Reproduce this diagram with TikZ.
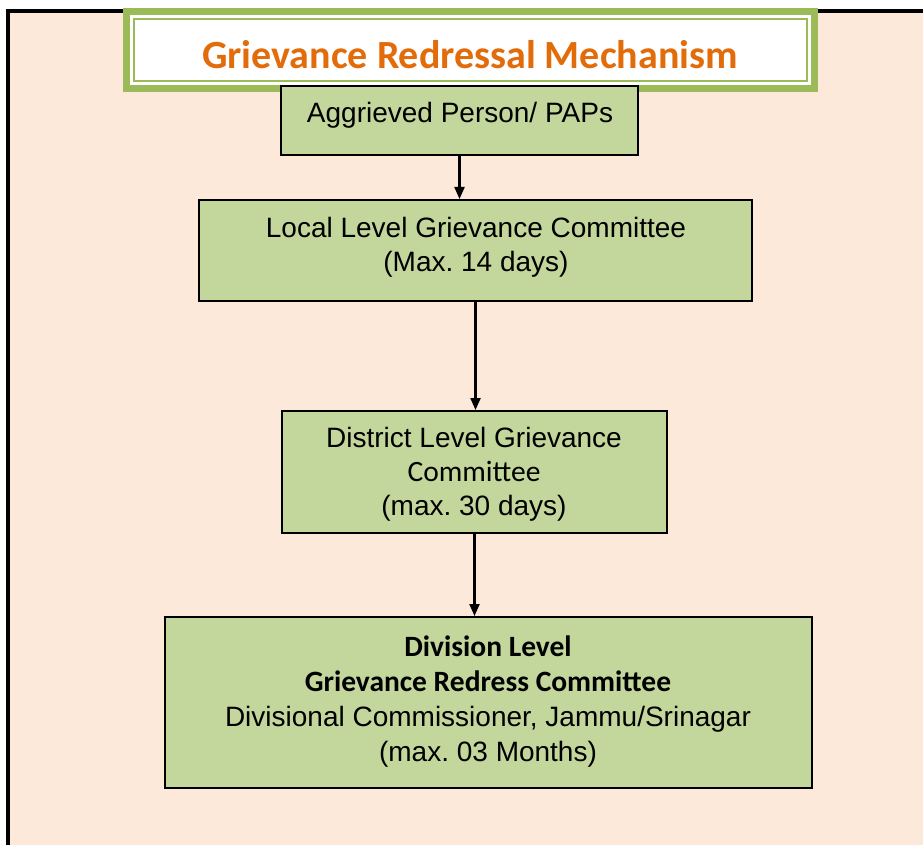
\documentclass[tikz,border=0pt]{standalone}
\usepackage{fontspec}
\setmainfont{Liberation Sans}
\newfontfamily\calfont{Carlito}
\usetikzlibrary{arrows.meta}
\definecolor{peach}{HTML}{FDE9D9}
\definecolor{boxgreen}{HTML}{C3D69B}
\definecolor{titlegreen}{HTML}{9BBB59}
\definecolor{titleorange}{HTML}{E36C0A}
\frenchspacing
\begin{document}
\begin{tikzpicture}[x=1pt,y=-1pt,
  stepbox/.style={draw=black, line width=2pt, fill=boxgreen, rectangle, inner sep=0pt},
  boxtext/.style={align=center, inner sep=0pt, font=\fontsize{28}{34}\selectfont},
  calbig/.style={},
  arr/.style={line width=2.2pt, -{Triangle[length=12pt,width=10pt]}}]
\useasboundingbox (0,0) rectangle (923,845);
\clip (0,0) rectangle (923,845);
% outer frame
\fill[peach] (8,11) rectangle (940,870);
\draw[line width=3.5pt] (8,11) rectangle (940,870);
% title
\fill[titlegreen] (123,8) rectangle (818,92);
\fill[white] (130,15) rectangle (811,85);
\draw[titlegreen, line width=1.5pt] (134,19) rectangle (807,81);
\node[inner sep=0pt, text=titleorange, font=\calfont\bfseries\fontsize{40}{48}\selectfont] (title) at (470,55) {Grievance Redressal Mechanism};
% boxes
\node[stepbox, minimum width=357pt, minimum height=69pt] (agg) at (459.5,120.5) {};
\node[boxtext] (aggt) at (460,115) {Aggrieved Person/ PAPs};
\node[stepbox, minimum width=553pt, minimum height=101pt] (loc) at (475.5,250.5) {};
\node[boxtext] (loct) at (476,247) {Local Level Grievance Committee\\(Max. 14 days)};
\node[stepbox, minimum width=385pt, minimum height=122pt] (dist) at (474.5,472) {};
\node[boxtext] (distt) at (474,474.5) {District Level Grievance\\{\calfont\fontsize{29.5}{34}\selectfont Committee}\\(max. 30 days)};
\node[stepbox, minimum width=647pt, minimum height=171pt] (div) at (488.5,702.5) {};
\node[boxtext, font=\fontsize{28}{35}\selectfont] (divt) at (488,701.5) {{\calfont\bfseries\fontsize{29.5}{35}\selectfont Division Level}\\{\calfont\bfseries\fontsize{29.5}{35}\selectfont Grievance Redress Committee}\\Divisional Commissioner, Jammu/Srinagar\\(max. 03 Months)};
% arrows
\draw[arr] (agg.south) -- (agg.south |- loc.north);
\draw[arr] (loc.south) -- (loc.south |- dist.north);
\draw[arr] (dist.south) -- (dist.south |- div.north);
\end{tikzpicture}
\end{document}
